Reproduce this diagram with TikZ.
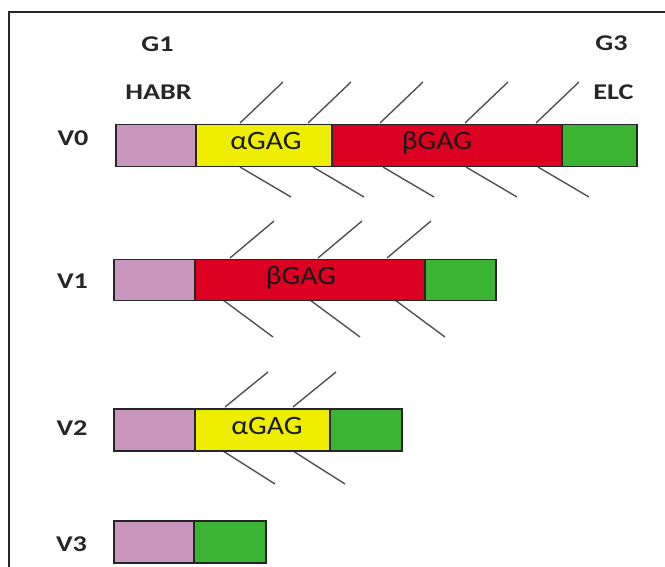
\documentclass[tikz,border=0pt]{standalone}
\usepackage{fontspec}
\setmainfont{Carlito}
\usetikzlibrary{calc}
\definecolor{habrcol}{RGB}{200,150,190}
\definecolor{agagcol}{RGB}{240,238,0}
\definecolor{bgagcol}{RGB}{220,0,35}
\definecolor{elccol}{RGB}{58,180,50}
% horizontally widened text
\newcommand{\widetext}[2]{\scalebox{#1}[1]{#2}}
\begin{document}
\begin{tikzpicture}[x=1pt,y=-1pt,
  seg/.style={draw=black!85, line width=1.5pt, inner sep=0pt, anchor=north west, minimum height=42pt},
  chain/.style={draw=black!68, line width=1.4pt},
  lbl/.style={font=\bfseries\fontsize{22.5}{26}\selectfont, text=black!85, inner sep=0pt, anchor=base},
  gag/.style={font=\fontsize{26.5}{30}\selectfont, text=black!90, inner sep=0pt, anchor=base}]
\useasboundingbox (0,0) rectangle (665,567);
% frame
\draw[line width=2pt, black!85] (9,567) -- (9,12) -- (665,12);

% column headers
\node[lbl] (g1)   at (157.5,52)  {\widetext{1.25}{G1}};
\node[lbl] (habr) at (158.5,100) {\widetext{1.25}{HABR}};
\node[lbl] (g3)   at (611.5,51)  {\widetext{1.25}{G3}};
\node[lbl] (elc)  at (613.5,100) {\widetext{1.25}{ELC}};

% row labels
\node[lbl] (v0) at (73,146)  {\widetext{1.25}{V0}};
\node[lbl] (v1) at (72.5,288) {\widetext{1.25}{V1}};
\node[lbl] (v2) at (72,435)  {\widetext{1.25}{V2}};
\node[lbl] (v3) at (71.5,551) {\widetext{1.25}{V3}};

% glycan chains, V0
\foreach \x in {240,308,380,465,536} \draw[chain] (\x,123) -- ++(43,-41);
\foreach \x in {240,313,383,466,538} \draw[chain] (\x,167) -- ++(51,30);
% glycan chains, V1
\foreach \x in {230,318,387} \draw[chain] (\x,258) -- ++(44,-37);
\foreach \x in {223,310,395} \draw[chain] (\x,300) -- ++(50,37);
% glycan chains, V2
\foreach \x in {225,293} \draw[chain] (\x,407) -- ++(43,-35);
\foreach \x in {223,293} \draw[chain] (\x,451) -- ++(52,33);

% V0
\node[seg, fill=habrcol, minimum width=80pt]  (v0h) at (115,124) {};
\node[seg, fill=agagcol, minimum width=136pt] (v0a) at (195,124) {};
\node[seg, fill=bgagcol, minimum width=230pt] (v0b) at (331,124) {};
\node[seg, fill=elccol,  minimum width=75pt]  (v0e) at (561,124) {};
\node[gag] (v0at) at (266,150) {\widetext{1.12}{αGAG}};
\node[gag] (v0bt) at (437,150) {\widetext{1.12}{βGAG}};

% V1
\node[seg, fill=habrcol, minimum width=81pt, minimum height=41pt]  (v1h) at (113,259) {};
\node[seg, fill=bgagcol, minimum width=230pt, minimum height=41pt] (v1b) at (194,259) {};
\node[seg, fill=elccol,  minimum width=71pt, minimum height=41pt]  (v1e) at (424,259) {};
\node[gag] (v1bt) at (301,285) {\widetext{1.12}{βGAG}};

% V2
\node[seg, fill=habrcol, minimum width=81pt]  (v2h) at (113,408) {};
\node[seg, fill=agagcol, minimum width=135pt] (v2a) at (194,408) {};
\node[seg, fill=elccol,  minimum width=72pt]  (v2e) at (329,408) {};
\node[gag] (v2at) at (267,434) {\widetext{1.12}{αGAG}};

% V3
\node[seg, fill=habrcol, minimum width=80pt] (v3h) at (113,520) {};
\node[seg, fill=elccol,  minimum width=72pt] (v3e) at (193,520) {};
\end{tikzpicture}
\end{document}
